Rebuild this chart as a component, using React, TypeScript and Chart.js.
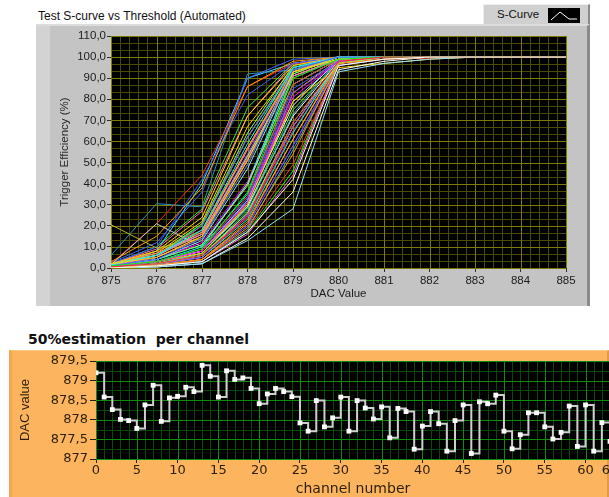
import React, { useEffect, useRef } from 'react';
import { Chart, registerables } from 'chart.js';

Chart.register(...registerables);

// ---------- Data: S-curves (trigger efficiency % per DAC value, one row per channel) ----------
const dacValues = [875, 876, 877, 878, 879, 880, 881, 882, 883, 884, 885];

const sCurves: number[][] = [
  [0, 1, 3, 17, 42, 96, 99, 100, 100, 100, 100],
  [0.5, 2, 6, 24, 69, 98, 100, 100, 100, 100, 100],
  [1, 3, 9, 36, 90, 99, 100, 100, 100, 100, 100],
  [1, 4, 14, 49, 94, 100, 100, 100, 100, 100, 100],
  [2, 5, 15, 51, 93, 99, 100, 100, 100, 100, 100],
  [1.5, 6, 18, 59, 95, 100, 100, 100, 100, 100, 100],
  [0.5, 3, 8, 31, 81, 98, 100, 100, 100, 100, 100],
  [0, 1, 4, 19, 54, 97, 99, 100, 100, 100, 100],
  [1, 6, 16, 52, 91, 99, 100, 100, 100, 100, 100],
  [0, 2, 6, 26, 69, 97, 100, 100, 100, 100, 100],
  [0.5, 2, 5, 25, 67, 98, 100, 100, 100, 100, 100],
  [0, 1, 3, 18, 56, 96, 99, 100, 100, 100, 100],
  [0, 1.5, 4, 21, 61, 97, 100, 100, 100, 100, 100],
  [0, 0.5, 2, 13, 28, 93, 97, 99, 100, 100, 100],
  [0, 1, 3, 16, 44, 97, 99, 100, 100, 100, 100],
  [1, 2, 6, 27, 67, 98, 100, 100, 100, 100, 100],
  [0, 0.5, 2, 14, 36, 94, 98, 100, 100, 100, 100],
  [0, 1, 4, 18, 49, 96, 99, 100, 100, 100, 100],
  [0, 1, 3, 17, 46, 97, 100, 100, 100, 100, 100],
  [0.5, 1.5, 4, 20, 58, 97, 100, 100, 100, 100, 100],
  [1, 3, 7, 30, 79, 95, 97, 99, 100, 100, 100],
  [0, 2, 5, 23, 64, 98, 100, 100, 100, 100, 100],
  [0, 1, 4, 20, 58, 96, 99, 100, 100, 100, 100],
  [0.5, 1, 4, 22, 61, 98, 100, 100, 100, 100, 100],
  [0, 2, 6, 25, 67, 98, 100, 100, 100, 100, 100],
  [2, 6, 16, 53, 92, 100, 100, 100, 100, 100, 100],
  [1, 5, 20, 62, 95, 100, 100, 100, 100, 100, 100],
  [0.5, 2, 7, 28, 73, 99, 100, 100, 100, 100, 100],
  [2, 7, 17, 57, 93, 100, 100, 100, 100, 100, 100],
  [1, 4, 13, 47, 93, 99, 100, 100, 100, 100, 100],
  [0, 2, 6, 26, 67, 97, 100, 100, 100, 100, 100],
  [1, 5, 21, 62, 94, 100, 100, 100, 100, 100, 100],
  [0, 2, 7, 29, 72, 98, 100, 100, 100, 100, 100],
  [1, 3, 9, 34, 87, 99, 100, 100, 100, 100, 100],
  [20.5, 9.5, 14, 49, 95, 100, 100, 100, 100, 100, 100],
  [0.5, 3, 9, 33, 85, 98, 100, 100, 100, 100, 100],
  [2, 8, 24, 72, 96, 100, 100, 100, 100, 100, 100],
  [1, 3, 10, 35, 87, 99, 100, 100, 100, 100, 100],
  [1.5, 21, 10, 40, 87, 99, 100, 100, 100, 100, 100],
  [3, 15, 38, 86, 98, 100, 100, 100, 100, 100, 100],
  [2, 6, 17, 56, 93, 100, 100, 100, 100, 100, 100],
  [1, 4, 11, 39, 91, 99, 100, 100, 100, 100, 100],
  [2, 7, 16, 54, 94, 100, 100, 100, 100, 100, 100],
  [2, 10, 42, 82, 97, 100, 100, 100, 100, 100, 100],
  [1.5, 5, 14, 51, 92, 100, 100, 100, 100, 100, 100],
  [1, 3, 8, 32, 79, 98, 100, 100, 100, 100, 100],
  [2, 21, 44, 86, 97, 98, 99, 99.5, 100, 100, 100],
  [0.5, 2, 7, 29, 75, 98, 100, 100, 100, 100, 100],
  [1, 3, 8, 31, 77, 99, 100, 100, 100, 100, 100],
  [0, 2, 5, 24, 65, 97, 100, 100, 100, 100, 100],
  [2, 6, 20, 62, 95, 100, 100, 100, 100, 100, 100],
  [2.5, 12, 36, 90, 99, 100, 100, 100, 100, 100, 100],
  [1.5, 7, 22, 67, 95, 100, 100, 100, 100, 100, 100],
  [1, 4, 11, 40, 93, 100, 100, 100, 100, 100, 100],
  [1.5, 4, 12, 41, 90, 99, 100, 100, 100, 100, 100],
  [2, 8, 18, 57, 94, 100, 100, 100, 100, 100, 100],
  [2, 9, 27, 72, 97, 100, 100, 100, 100, 100, 100],
  [1, 6, 21, 64, 96, 100, 100, 100, 100, 100, 100],
  [0.5, 3, 8, 32, 83, 98, 100, 100, 100, 100, 100],
  [6, 30.5, 29, 92, 94, 98, 100, 100, 100, 100, 100],
  [1, 3, 8, 30, 83, 99, 100, 100, 100, 100, 100],
  [1, 8, 40, 90, 97, 100, 100, 100, 100, 100, 100],
  [1.5, 5, 15, 53, 91, 99, 100, 100, 100, 100, 100],
  [2, 10, 28, 76, 97, 100, 100, 100, 100, 100, 100],
];

const curvePalette = [
  '#FFFFFF', '#FF2A2A', '#00FF00', '#4262FF', '#FFD000', '#00FFFF', '#FF00FF', '#FF9900',
  '#FF70B8', '#80FF60', '#A040FF', '#30B0D0', '#FFA040', '#90E0FF', '#FF60E0', '#40E040',
];
const curveColorOverrides: Record<number, string> = {
  34: '#B8B830', 38: '#C8C8C8', 43: '#3858FF', 46: '#FF2A2A', 59: '#2E94BE', 61: '#38E8FF',
};

// ---------- Data: 50% estimation per channel ----------
const channels = [
  0, 1, 2, 3, 4, 5, 6, 7, 8, 9, 10, 11, 12, 13, 14, 15,
  16, 17, 18, 19, 20, 21, 22, 23, 24, 25, 26, 27, 28, 29, 30, 31,
  32, 33, 34, 35, 36, 37, 38, 39, 40, 41, 42, 43, 44, 45, 46, 47,
  48, 49, 50, 51, 52, 53, 54, 55, 56, 57, 58, 59, 60, 61, 62, 63,
];
const halfPointDac = [
  879.2, 878.58, 878.26, 878.01, 877.98, 877.78, 878.38, 878.88,
  877.96, 878.56, 878.6, 878.83, 878.72, 879.39, 879.11, 878.58,
  879.25, 879.03, 879.07, 878.8, 878.41, 878.66, 878.8, 878.72,
  878.59, 877.92, 877.71, 878.49, 877.82, 878.05, 878.58, 877.71,
  878.49, 878.3, 878.02, 878.33, 877.54, 878.29, 878.21, 877.25,
  877.84, 878.21, 877.9, 877.2, 877.98, 878.38, 877.14, 878.46,
  878.41, 878.63, 877.71, 877.26, 877.62, 878.18, 878.18, 877.82,
  877.51, 877.68, 878.35, 877.32, 878.38, 877.2, 877.93, 877.45,
];
const channelTicks = [0, 5, 10, 15, 20, 25, 30, 35, 40, 45, 50, 55, 60, 63];

// ---------- helpers ----------
const commaDec = (v: number, d: number) => v.toFixed(d).replace('.', ',');
const curveColor = (i: number) => curveColorOverrides[i] ?? curvePalette[i % curvePalette.length];

const gridSteps = (min: number, max: number, step: number) => {
  const out: number[] = [];
  const n = Math.floor((max - min) / step + 1e-6);
  for (let i = 0; i <= n; i++) out.push(min + i * step);
  return out;
};

const lvGridPlugin = {
  id: 'lvGrid',
  beforeDatasetsDraw(chart: any, _args: any, opts: any) {
    const { ctx, chartArea: a } = chart;
    const xs = chart.scales.x;
    const ys = chart.scales.y;
    ctx.save();
    ctx.fillStyle = opts.background;
    ctx.fillRect(a.left, a.top, a.right - a.left, a.bottom - a.top);
    ctx.lineWidth = 1;
    const vline = (v: number, c: string) => {
      const p = Math.round(xs.getPixelForValue(v)) + 0.5;
      ctx.strokeStyle = c;
      ctx.beginPath();
      ctx.moveTo(p, a.top);
      ctx.lineTo(p, a.bottom);
      ctx.stroke();
    };
    const hline = (v: number, c: string) => {
      const p = Math.round(ys.getPixelForValue(v)) + 0.5;
      ctx.strokeStyle = c;
      ctx.beginPath();
      ctx.moveTo(a.left, p);
      ctx.lineTo(a.right, p);
      ctx.stroke();
    };
    gridSteps(xs.min, xs.max, opts.xMinor).forEach((v) => vline(v, opts.minorColor));
    gridSteps(ys.min, ys.max, opts.yMinor).forEach((v) => hline(v, opts.minorColor));
    gridSteps(xs.min, xs.max, opts.xMajor).forEach((v) => vline(v, opts.majorColor));
    gridSteps(ys.min, ys.max, opts.yMajor).forEach((v) => hline(v, opts.majorColor));
    ctx.restore();
  },
};

// ---------- chart configs ----------
const topFont = { family: '"Liberation Sans", Arial, sans-serif', size: 11.5 };
const topText = '#1C1C1C';

const sCurveConfig = (): any => ({
  type: 'line',
  data: {
    datasets: sCurves.map((vals, i) => ({
      label: `Channel ${i}`,
      data: vals.map((y, j) => ({ x: dacValues[j], y })),
      borderColor: curveColor(i),
      borderWidth: 1,
      pointRadius: 0,
      fill: false,
      tension: 0,
    })),
  },
  options: {
    responsive: false,
    animation: false,
    events: [],
    layout: { padding: { left: 0, top: 12, right: 24, bottom: 0 } },
    plugins: {
      legend: { display: false },
      tooltip: { enabled: false },
      lvGrid: {
        background: '#000000',
        majorColor: '#7C7C00',
        minorColor: '#4A4A00',
        xMajor: 1,
        xMinor: 0.2,
        yMajor: 10,
        yMinor: 10 / 3,
      },
    },
    scales: {
      x: {
        type: 'linear',
        min: 875,
        max: 885,
        ticks: { stepSize: 1, font: topFont, color: topText, padding: 2, maxRotation: 0, callback: (v: number) => String(v) },
        grid: { drawOnChartArea: false, tickLength: 4, tickColor: '#303030' },
        border: { color: '#2A2A2A' },
        title: { display: true, text: 'DAC Value', font: topFont, color: topText, padding: { top: 0, bottom: 5 } },
        afterFit: (s: any) => { s.height = 38; },
      },
      y: {
        type: 'linear',
        min: 0,
        max: 110,
        ticks: { stepSize: 10, font: topFont, color: topText, padding: 1, callback: (v: number) => commaDec(v, 1) },
        grid: { drawOnChartArea: false, tickLength: 4, tickColor: '#303030' },
        border: { color: '#2A2A2A' },
        title: { display: true, text: 'Trigger Efficiency (%)', font: topFont, color: '#2A2A2A', padding: { top: 22, bottom: 0 } },
        afterFit: (s: any) => { s.width = 75; },
      },
    },
  },
  plugins: [lvGridPlugin],
});

const botFont = { family: '"DejaVu Sans", Verdana, sans-serif', size: 13 };
const botText = '#2A1E08';

const estimationConfig = (): any => ({
  type: 'line',
  data: {
    datasets: [
      {
        label: '50% estimation',
        data: channels.map((c, i) => ({ x: c, y: halfPointDac[i] })),
        stepped: 'before',
        borderColor: '#CFCFCF',
        borderWidth: 2,
        pointStyle: 'rect',
        pointRadius: 3.4,
        pointBackgroundColor: '#FFFFFF',
        pointBorderWidth: 0,
        fill: false,
      },
    ],
  },
  options: {
    responsive: false,
    animation: false,
    events: [],
    layout: { padding: { left: 0, top: 11, right: 19, bottom: 0 } },
    plugins: {
      legend: { display: false },
      tooltip: { enabled: false },
      lvGrid: {
        background: '#000000',
        majorColor: '#0E8C0E',
        minorColor: '#094A09',
        xMajor: 5,
        xMinor: 1,
        yMajor: 0.5,
        yMinor: 0.25,
      },
    },
    scales: {
      x: {
        type: 'linear',
        min: 0,
        max: 63,
        afterBuildTicks: (s: any) => { s.ticks = channelTicks.map((v) => ({ value: v })); },
        ticks: { font: botFont, color: botText, padding: 0, maxRotation: 0, autoSkip: false, callback: (v: number) => String(v) },
        grid: { drawOnChartArea: false, tickLength: 4, tickColor: '#202020' },
        border: { color: '#303030' },
        title: { display: true, text: 'channel number', font: { ...botFont, size: 14, lineHeight: 1 }, color: botText, padding: { top: 0, bottom: 1 } },
        afterFit: (s: any) => { s.height = 38; },
      },
      y: {
        type: 'linear',
        min: 877,
        max: 879.5,
        ticks: {
          stepSize: 0.5,
          font: botFont,
          color: botText,
          padding: 2,
          callback: (v: number) => (Math.abs(v - Math.round(v)) < 1e-6 ? String(Math.round(v)) : commaDec(v, 1)),
        },
        grid: { drawOnChartArea: false, tickLength: 6, tickColor: '#202020' },
        border: { color: '#303030' },
        title: { display: true, text: 'DAC value', font: { family: '"Liberation Sans", Arial, sans-serif', size: 13 }, color: botText, padding: { top: 9, bottom: 0 } },
        afterFit: (s: any) => { s.width = 87; },
      },
    },
  },
  plugins: [lvGridPlugin],
});

function ChartCanvas({ width, height, left, top, build }: { width: number; height: number; left: number; top: number; build: () => any }) {
  const ref = useRef<HTMLCanvasElement>(null);
  useEffect(() => {
    const chart = new Chart(ref.current as HTMLCanvasElement, build());
    return () => chart.destroy();
  }, []);
  return (
    <canvas
      ref={ref}
      width={width}
      height={height}
      style={{ position: 'absolute', left, top, width, height, display: 'block' }}
    />
  );
}

export default function App() {
  return (
    <div style={{ position: 'fixed', left: 0, top: 0, width: 609, height: 497, overflow: 'hidden', background: '#FFFFFF' }}>
      {/* top chart title */}
      <div style={{ position: 'absolute', left: 38, top: 9, font: '12px "Liberation Sans", Arial, sans-serif', color: '#111', whiteSpace: 'nowrap' }}>
        Test S-curve vs Threshold (Automated)
      </div>
      {/* legend */}
      <div style={{ position: 'absolute', left: 483, top: 4, width: 104, height: 21, background: '#D0D0D0', borderTop: '1px solid #EDEDED', borderLeft: '1px solid #EDEDED', borderRight: '2px solid #8A8A8A' }}>
        <div style={{ position: 'absolute', left: 13, top: 3, font: '11.5px "Liberation Sans", Arial, sans-serif', color: '#111', whiteSpace: 'nowrap' }}>S-Curve</div>
        <div style={{ position: 'absolute', left: 64, top: 3, width: 32, height: 15, background: '#000' }}>
          <svg width="32" height="15" style={{ display: 'block' }}>
            <polyline points="3,12 12,4 21,11 29,11" fill="none" stroke="#FFFFFF" strokeWidth="1" />
          </svg>
        </div>
      </div>
      {/* gray panel */}
      <div style={{ position: 'absolute', left: 36, top: 24, width: 551, height: 280, background: '#C4C4C4', borderTop: '2px solid #DCDCDC', borderRight: '3px solid #8A8A8A' }}>
        <div style={{ position: 'absolute', left: 0, top: 0, width: 14, height: 280, background: '#D3D3D3' }} />
      </div>
      <ChartCanvas width={554} height={282} left={36} top={24} build={sCurveConfig} />

      {/* bottom chart title */}
      <div style={{ position: 'absolute', left: 28, top: 331, font: 'bold 14px "DejaVu Sans", Verdana, sans-serif', color: '#111', whiteSpace: 'pre' }}>
        50%estimation  per channel
      </div>
      {/* orange panel */}
      <div style={{ position: 'absolute', left: 9, top: 350, width: 595, height: 147, background: '#FDB45E', borderLeft: '3px solid #F3A64E', borderRight: '3px solid #E09A48', borderTop: '1px solid #FFC680' }} />
      <ChartCanvas width={620} height={147} left={9} top={350} build={estimationConfig} />
    </div>
  );
}
